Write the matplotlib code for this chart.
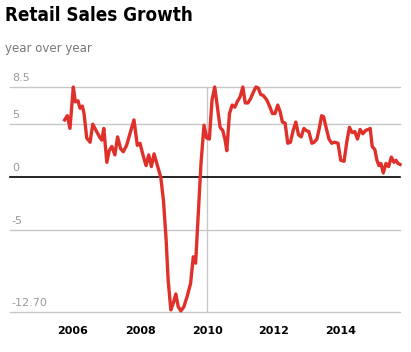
import matplotlib
matplotlib.use("Agg")
import matplotlib.pyplot as plt
import matplotlib.transforms as mtransforms

# decimal year, yoy growth (%)
years = [
    2005.75, 2005.83, 2005.91, 2006.01, 2006.07, 2006.15, 2006.21, 2006.28, 2006.33, 2006.41,
    2006.51, 2006.59, 2006.69, 2006.79, 2006.86, 2006.92, 2007.01, 2007.08, 2007.16, 2007.25,
    2007.33, 2007.42, 2007.50, 2007.60, 2007.70, 2007.82, 2007.92, 2008.00, 2008.08, 2008.18,
    2008.26, 2008.34, 2008.42, 2008.52, 2008.62, 2008.70, 2008.78, 2008.84, 2008.92, 2008.99,
    2009.07, 2009.14, 2009.22, 2009.31, 2009.41, 2009.51, 2009.59, 2009.66, 2009.74, 2009.82,
    2009.91, 2009.99, 2010.07, 2010.15, 2010.23, 2010.31, 2010.39, 2010.47, 2010.54, 2010.59,
    2010.67, 2010.75, 2010.83, 2010.90, 2010.99, 2011.07, 2011.14, 2011.22, 2011.30, 2011.38,
    2011.46, 2011.53, 2011.60, 2011.68, 2011.78, 2011.88, 2011.95, 2012.03, 2012.11, 2012.18,
    2012.25, 2012.33, 2012.41, 2012.49, 2012.57, 2012.65, 2012.73, 2012.81, 2012.89, 2012.96,
    2013.04, 2013.13, 2013.20, 2013.28, 2013.35, 2013.42, 2013.48, 2013.56, 2013.64, 2013.72,
    2013.80, 2013.91, 2013.99, 2014.09, 2014.17, 2014.25, 2014.33, 2014.41, 2014.49, 2014.57,
    2014.65, 2014.73, 2014.81, 2014.87, 2014.93, 2015.01, 2015.07, 2015.13, 2015.19, 2015.26,
    2015.34, 2015.42, 2015.50, 2015.58, 2015.64, 2015.70, 2015.76,
]
growth = [
    5.4, 5.8, 4.6, 8.5, 7.1, 7.2, 6.5, 6.7, 6.0, 3.7,
    3.3, 5.0, 4.4, 3.8, 3.5, 4.6, 1.4, 2.5, 2.9, 2.1,
    3.8, 2.7, 2.4, 3.0, 4.1, 5.4, 3.0, 3.2, 2.2, 1.1,
    2.1, 1.0, 2.2, 1.1, 0.0, -2.2, -5.9, -9.7, -12.5, -11.9,
    -11.0, -12.2, -12.6, -12.2, -11.2, -10.0, -7.5, -8.1, -3.4, 1.3,
    4.9, 3.7, 3.6, 7.3, 8.5, 6.6, 4.7, 4.4, 3.5, 2.5,
    6.0, 6.8, 6.6, 7.1, 7.6, 8.5, 7.0, 7.0, 7.4, 8.0,
    8.5, 8.4, 7.8, 7.7, 7.3, 6.6, 6.0, 6.0, 6.8, 6.2,
    5.2, 5.1, 3.2, 3.3, 4.4, 5.2, 4.0, 3.8, 4.6, 4.4,
    4.3, 3.2, 3.3, 3.6, 4.6, 5.8, 5.7, 4.6, 3.6, 3.2,
    3.3, 3.2, 1.6, 1.5, 3.3, 4.7, 4.2, 4.3, 3.6, 4.5,
    4.1, 4.4, 4.5, 4.6, 2.9, 2.6, 1.6, 1.1, 1.3, 0.4,
    1.3, 1.0, 1.9, 1.4, 1.6, 1.3, 1.2,
]

y_ticks = [8.5, 5, 0, -5, -12.7]
y_labels = ["8.5", "5", "0", "-5", "-12.70"]
x_ticks = [2006, 2008, 2010, 2012, 2014]

fig = plt.figure(figsize=(4.11, 3.52), dpi=100)
ax = fig.add_axes([0.0243, 0.1136, 0.949, 0.6392])

ax.set_xlim(2004.12, 2015.76)
ax.set_ylim(-12.7, 8.5)

for v in y_ticks:
    if v == 0:
        ax.axhline(v, color="black", lw=1.2, zorder=2, clip_on=False)
    else:
        ax.axhline(v, color="#c8c8c8", lw=1, zorder=1, clip_on=False)
ax.axvline(2010, color="#c8c8c8", lw=1, zorder=1)

ax.plot(years, growth, color="#e0302a", lw=2.4, solid_joinstyle="round",
        zorder=3, clip_on=False)

trans = mtransforms.blended_transform_factory(ax.transAxes, ax.transData)
for v, lab in zip(y_ticks, y_labels):
    ax.annotate(lab, xy=(0.005, v), xycoords=trans, xytext=(0, 3),
                textcoords="offset points", ha="left", va="bottom",
                fontsize=8, color="#9a9a9a")

ax.set_xticks(x_ticks)
ax.set_xticklabels([str(x) for x in x_ticks], fontsize=8, fontweight="bold")
ax.tick_params(axis="x", length=0, pad=10)
ax.set_yticks([])
for s in ax.spines.values():
    s.set_visible(False)

fig.text(0.012, 0.983, "Retail Sales Growth", ha="left", va="top",
         fontsize=13.5, fontweight="bold", fontstretch="condensed",
         family=["Liberation Sans Narrow", "DejaVu Sans"])
fig.text(0.012, 0.862, "year over year", ha="left", va="center",
         fontsize=8.5, color="#777777")

fig.savefig("out.png", dpi=100)
